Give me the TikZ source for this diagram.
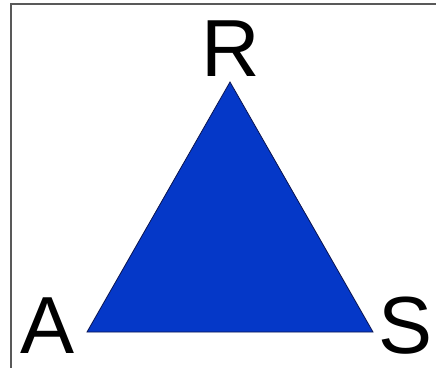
\documentclass[tikz,border=0pt]{standalone}
\usepackage{fontspec}
\setmainfont{Liberation Sans}
\definecolor{triblue}{RGB}{5,56,200}
\definecolor{tridark}{RGB}{10,20,80}
\begin{document}
\begin{tikzpicture}[x=1pt, y=-1pt, thick,
    every node/.style={font=\fontsize{81}{81}\selectfont, anchor=base, inner sep=0pt},
    frame/.style={gray!70!black, line width=2pt}]
  % canvas
  \useasboundingbox (0,0) rectangle (436,368);
  \fill[white] (0,0) rectangle (436,368);

  % frame (top and left edge only)
  \coordinate (tl) at (11,4);
  \coordinate (tr) at (436,4);
  \coordinate (bl) at (11,368);
  \draw[frame] (tr) -- (tl) -- (bl);

  % triangle
  \coordinate (r) at (230,82);
  \coordinate (a) at (87,332);
  \coordinate (s) at (373,332);
  \filldraw[fill=triblue, draw=tridark, line width=0.8pt] (r) -- (a) -- (s) -- cycle;

  % labels
  \node (lr) at (231,76) {R};
  \node (la) at (48,353) {A};
  \node (ls) at (406,353) {S};
\end{tikzpicture}
\end{document}
